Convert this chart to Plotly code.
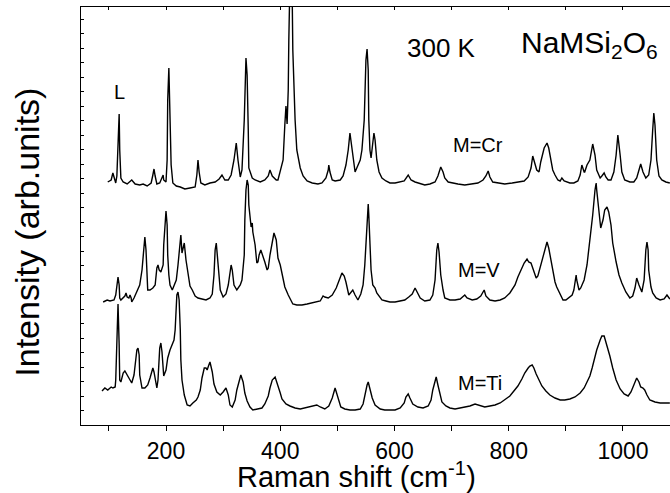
import plotly.graph_objects as go

# Raman shift (cm^-1) and intensity (arb. units, offset traces)
cr_shift = [98,104,107,111,112,114,116,118,119,121,125,132,140,146,154,160,167,174,177,179,181,184,189,193,195,196,200,202,203,205,207,209,212,218,225,233,242,251,254,256,258,261,268,277,286,293,298,303,309,314,319,323,326,330,333,337,340,342,344,345,351,356,365,373,379,382,386,393,396,400,405,408,410,412,414,415,417,419,421,422,426,429,435,440,447,456,466,473,480,484,485,487,491,496,505,510,515,519,522,526,529,531,534,540,543,547,550,552,554,555,557,559,561,564,566,569,573,578,585,592,601,610,617,624,629,636,645,653,662,671,676,680,681,685,688,694,701,711,723,736,746,755,760,764,767,772,781,793,806,816,827,834,839,842,846,849,853,856,862,867,870,874,877,881,886,890,893,897,902,907,914,921,925,928,932,933,937,939,942,947,951,954,960,963,967,970,974,979,984,988,991,995,998,1003,1012,1019,1024,1028,1031,1035,1040,1045,1049,1052,1054,1056,1059,1063,1068,1075,1082]
cr_int = [243,245,252,244,242,249,275,311,275,247,243,241,245,241,240,241,239,242,250,256,249,241,242,247,250,245,243,265,325,357,315,260,242,239,238,236,237,238,250,265,253,242,240,242,243,246,250,245,245,250,265,282,265,248,255,305,367,350,295,257,247,245,243,245,249,255,249,245,245,253,265,300,319,301,335,385,425,505,425,375,305,275,257,249,244,242,241,242,247,255,260,253,245,244,245,249,260,275,292,275,257,253,257,265,275,305,365,376,355,305,275,267,277,292,285,265,253,247,244,242,242,243,244,250,245,243,241,240,241,243,249,257,258,253,247,243,242,241,240,241,242,245,249,254,248,243,242,241,242,243,244,248,257,269,262,255,253,263,277,282,277,265,255,250,245,244,247,244,243,242,242,244,250,260,253,253,260,262,265,281,270,255,247,249,252,248,245,245,253,270,290,270,253,245,243,243,247,255,261,253,247,250,265,295,312,300,265,249,245,243,242]

v_shift = [90,97,102,109,112,114,116,118,119,121,125,128,130,132,135,137,139,140,144,147,151,154,158,161,163,165,167,168,172,175,177,181,182,184,186,188,191,193,195,196,198,200,202,203,205,207,211,214,218,221,225,226,228,230,232,235,239,242,246,251,256,263,270,277,281,284,286,288,289,291,295,300,305,309,312,314,316,319,324,330,333,337,338,340,342,344,345,347,349,351,352,356,359,361,363,366,370,373,377,379,382,386,389,393,396,400,405,408,414,419,422,429,438,447,456,464,470,475,478,484,491,498,503,508,512,515,520,524,527,531,536,541,545,548,552,554,555,557,559,562,566,569,575,578,585,592,601,610,618,625,631,636,641,645,653,662,667,671,674,676,678,681,685,688,697,706,715,720,723,727,736,744,751,757,760,767,776,785,793,802,811,816,821,827,832,835,839,841,844,848,851,856,862,867,870,874,877,881,884,890,895,900,905,911,914,918,919,923,926,932,937,940,944,947,951,953,954,958,961,965,968,972,975,979,982,988,993,998,1005,1012,1017,1021,1024,1028,1033,1037,1038,1040,1042,1044,1045,1049,1052,1058,1065,1072,1077,1082]
v_int = [123,125,124,125,130,140,148,140,127,125,127,129,132,128,127,130,127,123,127,131,135,140,155,180,188,175,150,135,135,136,137,140,147,157,160,155,153,157,160,180,205,214,200,170,150,140,135,139,145,160,185,190,172,177,182,165,147,139,135,129,127,126,125,127,131,150,175,182,175,155,135,128,131,140,155,160,155,140,135,140,145,170,205,235,245,240,220,205,198,202,193,180,162,163,170,175,169,163,155,157,170,185,192,185,167,160,147,138,130,124,121,120,120,121,122,123,124,129,128,127,130,137,145,152,149,143,130,133,135,130,125,131,140,160,210,221,210,180,155,140,137,132,128,125,124,123,123,124,125,128,131,137,132,127,124,125,130,145,175,182,173,150,135,127,125,125,126,128,130,127,125,126,129,135,129,125,124,125,127,132,140,148,155,162,166,163,162,159,153,147,149,160,175,183,177,165,153,143,138,130,125,125,127,130,135,150,145,135,137,145,160,175,190,210,235,242,235,210,197,205,215,218,213,200,182,163,150,142,133,127,129,137,147,140,133,145,160,175,183,175,155,138,132,127,125,126,130,126]

ti_shift = [88,93,98,104,107,111,112,114,116,118,119,121,125,128,132,137,140,144,147,149,151,153,154,158,163,168,172,175,177,179,181,184,186,188,189,191,193,195,196,200,203,207,211,214,216,218,219,221,223,225,226,228,232,237,242,247,253,256,260,263,267,270,272,275,277,281,284,289,295,300,305,309,312,316,321,324,328,331,335,338,342,347,352,361,368,373,379,382,386,391,396,400,403,410,417,426,435,443,452,461,464,470,478,485,491,496,501,506,513,522,531,540,545,548,552,554,557,561,566,575,583,592,601,610,617,620,624,627,632,641,650,659,664,667,671,673,676,680,683,690,697,706,715,723,732,741,746,751,758,767,776,785,793,802,809,816,823,828,834,837,841,844,848,853,858,865,872,881,890,898,907,916,925,932,937,942,946,949,954,960,963,967,970,974,977,982,988,995,1002,1009,1014,1019,1024,1028,1031,1035,1038,1042,1047,1056,1065,1073,1082]
ti_int = [34,37,35,38,37,38,45,85,121,80,45,43,52,54,50,45,42,50,65,75,77,70,50,37,37,40,47,55,57,53,45,37,45,65,77,82,73,57,49,55,67,75,80,85,95,115,130,133,125,95,65,45,30,20,19,22,25,28,35,47,57,57,55,60,63,53,41,33,30,33,37,30,20,18,25,35,45,50,43,32,24,18,15,16,17,21,29,37,45,48,40,32,26,21,19,17,16,17,18,19,20,18,16,19,27,37,27,18,16,15,15,16,21,30,40,43,37,27,20,16,15,15,15,17,22,28,31,27,21,18,17,19,25,35,45,48,40,30,23,19,17,16,17,18,19,21,20,19,18,19,20,22,25,29,34,39,46,52,57,59,60,57,51,44,39,34,30,27,25,25,26,28,32,37,43,49,57,65,75,85,89,89,83,76,69,57,45,36,31,29,33,40,47,43,38,37,35,30,25,23,22,22,22]

FONT = "Liberation Sans, Arial, sans-serif"

fig = go.Figure()
for xs, ys in [(cr_shift, cr_int), (v_shift, v_int), (ti_shift, ti_int)]:
    fig.add_trace(go.Scatter(x=xs, y=ys, mode="lines",
                             line=dict(color="black", width=1.4),
                             showlegend=False, hoverinfo="skip"))
# invisible trace to carry the mirrored top axis
fig.add_trace(go.Scatter(x=[600], y=[0], xaxis="x2", mode="markers",
                         marker=dict(opacity=0), showlegend=False, hoverinfo="skip"))

fig.update_layout(
    width=670, height=493,
    margin=dict(l=81, r=0, t=7, b=68),
    paper_bgcolor="white", plot_bgcolor="white",
    font=dict(family=FONT, color="black"),
    xaxis=dict(range=[51.2, 1082.3], tickmode="linear", tick0=0, dtick=200,
               ticks="outside", ticklen=5, tickwidth=1, tickcolor="black",
               minor=dict(tickmode="linear", tick0=0, dtick=100, ticks="outside",
                          ticklen=5, tickcolor="black"),
               showline=True, linecolor="black", linewidth=1.2,
               showgrid=False, zeroline=False,
               tickfont=dict(size=23, family=FONT)),
    xaxis2=dict(range=[51.2, 1082.3], overlaying="x", side="top",
                tickmode="linear", tick0=0, dtick=100, ticks="inside", ticklen=3,
                tickcolor="black", showticklabels=False,
                showline=True, linecolor="black", linewidth=1.2,
                showgrid=False, zeroline=False),
    yaxis=dict(range=[0, 418], tick0=0, dtick=14.5, ticks="inside", ticklen=3,
               tickcolor="black", showticklabels=False,
               showline=True, linecolor="black", linewidth=1.2,
               showgrid=False, zeroline=False),
)

ann = [
    dict(x=119, y=333, text="L", size=20),
    dict(x=746, y=280, text="M=Cr", size=20),
    dict(x=748, y=155, text="M=V", size=20),
    dict(x=750, y=42, text="M=Ti", size=20),
    dict(x=683, y=377, text="300 K", size=26),
]
for a in ann:
    fig.add_annotation(x=a["x"], y=a["y"], xref="x", yref="y", text=a["text"],
                       showarrow=False, xanchor="center", yanchor="middle",
                       font=dict(size=a["size"], family=FONT, color="black"))
fig.add_annotation(x=818, y=381, xref="x", yref="y",
                   text="NaMSi<sub>2</sub>O<sub>6</sub>", showarrow=False,
                   xanchor="left", yanchor="middle",
                   font=dict(size=30, family=FONT, color="black"))
fig.add_annotation(x=(356 - 81) / 589, y=-0.1196, xref="paper", yref="paper",
                   text="Raman shift (cm<sup>-1</sup>)", showarrow=False,
                   xanchor="center", yanchor="middle",
                   font=dict(size=29, family=FONT, color="black"))
fig.add_annotation(x=-0.092, y=0.462, xref="paper", yref="paper",
                   text="Intensity (arb.units)", showarrow=False, textangle=-90,
                   xanchor="center", yanchor="middle",
                   font=dict(size=34, family=FONT, color="black"))

fig.write_html("out.html", config={"displayModeBar": False},
               post_script="document.body.style.margin='0px';document.body.style.overflow='hidden';")
